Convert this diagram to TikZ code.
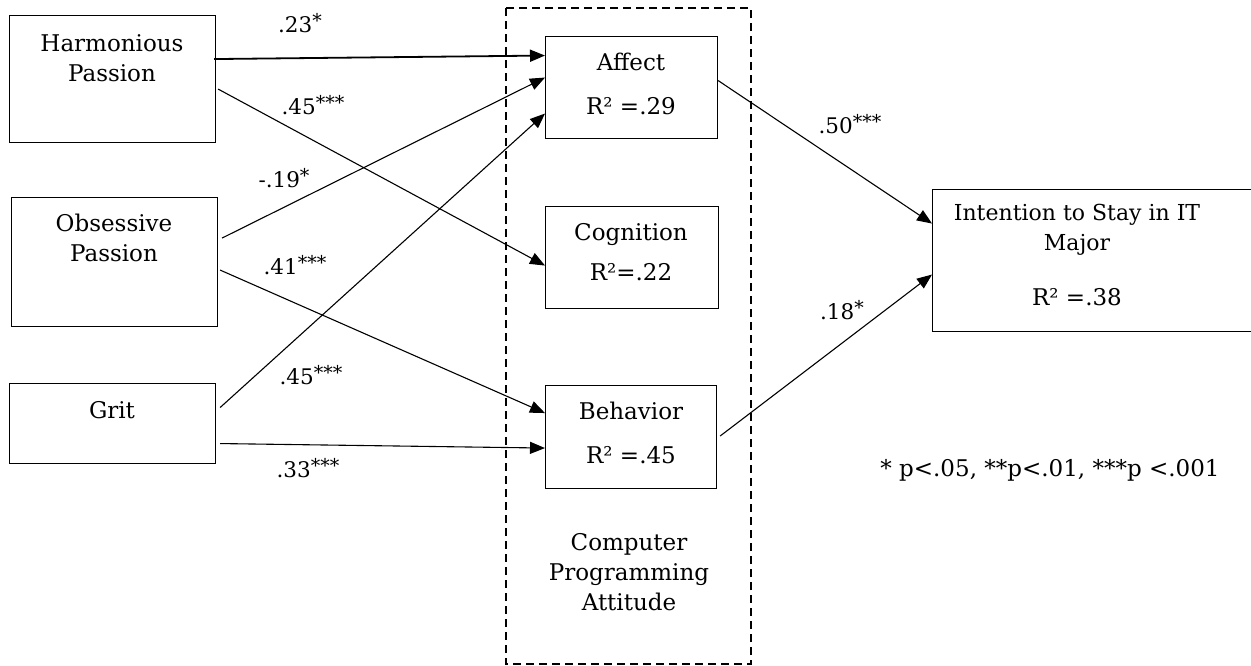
\documentclass[tikz,border=0pt]{standalone}
\usepackage{fontspec}
\setmainfont{DejaVu Serif}
\usetikzlibrary{arrows.meta}
\newcommand{\stars}[1]{\raisebox{5pt}{\fontsize{19}{19}\selectfont #1}}
\begin{document}
\begin{tikzpicture}[x=1pt,y=-1pt,
  box/.style={draw, line width=1.1pt, inner sep=0pt, anchor=north west},
  txt/.style={font=\fontsize{23}{30}\selectfont, align=center, inner sep=0pt},
  lab/.style={font=\fontsize{21.5}{24}\selectfont, inner sep=0pt},
  arr/.style={line width=1.1pt, -{Triangle[length=15pt,width=12pt]}},
  cage/.style={draw, line width=1.5pt, dash pattern=on 8pt off 5pt}]
\useasboundingbox (0,0) rectangle (1251,665);
\fill[white] (0,0) rectangle (1251,665);

% dashed group
\draw[cage] (506,8) rectangle (751,664);

% boxes
\node[box, minimum width=206pt, minimum height=127pt] (hp) at (9,15) {};
\node[box, minimum width=206pt, minimum height=129pt] (op) at (11,197) {};
\node[box, minimum width=206pt, minimum height=80pt]  (gr) at (9,383) {};
\node[box, minimum width=172pt, minimum height=102pt] (af) at (545,36) {};
\node[box, minimum width=173pt, minimum height=102pt] (cg) at (545,206) {};
\node[box, minimum width=171pt, minimum height=103pt] (bh) at (545,385) {};
\node[box, minimum width=330pt, minimum height=142pt] (it) at (932,189) {};

% box texts
\node[txt] (hpt) at (112,58) {Harmonious\\Passion};
\node[txt] (opt) at (114,238) {Obsessive\\Passion};
\node[txt] (grt) at (112,410) {Grit};
\node[txt] (aft) at (631,84) {Affect\\[14pt]R² =.29};
\node[txt] (cgt) at (631,252) {Cognition\\[10pt]R²=.22};
\node[txt] (bht) at (631,433) {Behavior\\[14pt]R² =.45};
\node[font=\fontsize{22}{30}\selectfont, align=center, inner sep=0pt] (itt) at (1077,230) {Intention to Stay in IT\\Major};
\node[txt] (itr) at (1077,297) {R² =.38};
\node[txt] (cpa) at (629,572) {Computer\\Programming\\Attitude};
\node[txt] (leg) at (1050,470) {* p<.05, **p<.01, ***p <.001};

% paths
\draw[arr, line width=1.8pt] ([shift={(-2pt,20pt)}]hp.east) -- ([yshift=32pt]af.west);
\draw[arr] ([shift={(2pt,-10pt)}]hp.east) -- ([yshift=-8pt]cg.west);
\draw[arr] ([shift={(4pt,24pt)}]op.east) -- ([yshift=10pt]af.west);
\draw[arr] ([shift={(2pt,-8pt)}]op.east) -- ([yshift=24pt]bh.west);
\draw[arr] ([shift={(4pt,16pt)}]gr.east) -- ([yshift=-26pt]af.west);
\draw[arr] ([shift={(4pt,-20pt)}]gr.east) -- ([yshift=-11pt]bh.west);
\draw[arr] ([yshift=7pt]af.east) -- ([yshift=37pt]it.west);
\draw[arr] ([shift={(3pt,1pt)}]bh.east) -- ([yshift=-14pt]it.west);

% path labels
\node[lab] (l1) at (300,23) {.23\stars{*}};
\node[lab] (l2) at (313,105) {.45\stars{***}};
\node[lab] (l3) at (284,178) {-.19\stars{*}};
\node[lab] (l4) at (295,265) {.41\stars{***}};
\node[lab] (l5) at (311,375) {.45\stars{***}};
\node[lab] (l6) at (308,468) {.33\stars{***}};
\node[lab] (l7) at (850,124) {.50\stars{***}};
\node[lab] (l8) at (842,310) {.18\stars{*}};
\end{tikzpicture}
\end{document}
